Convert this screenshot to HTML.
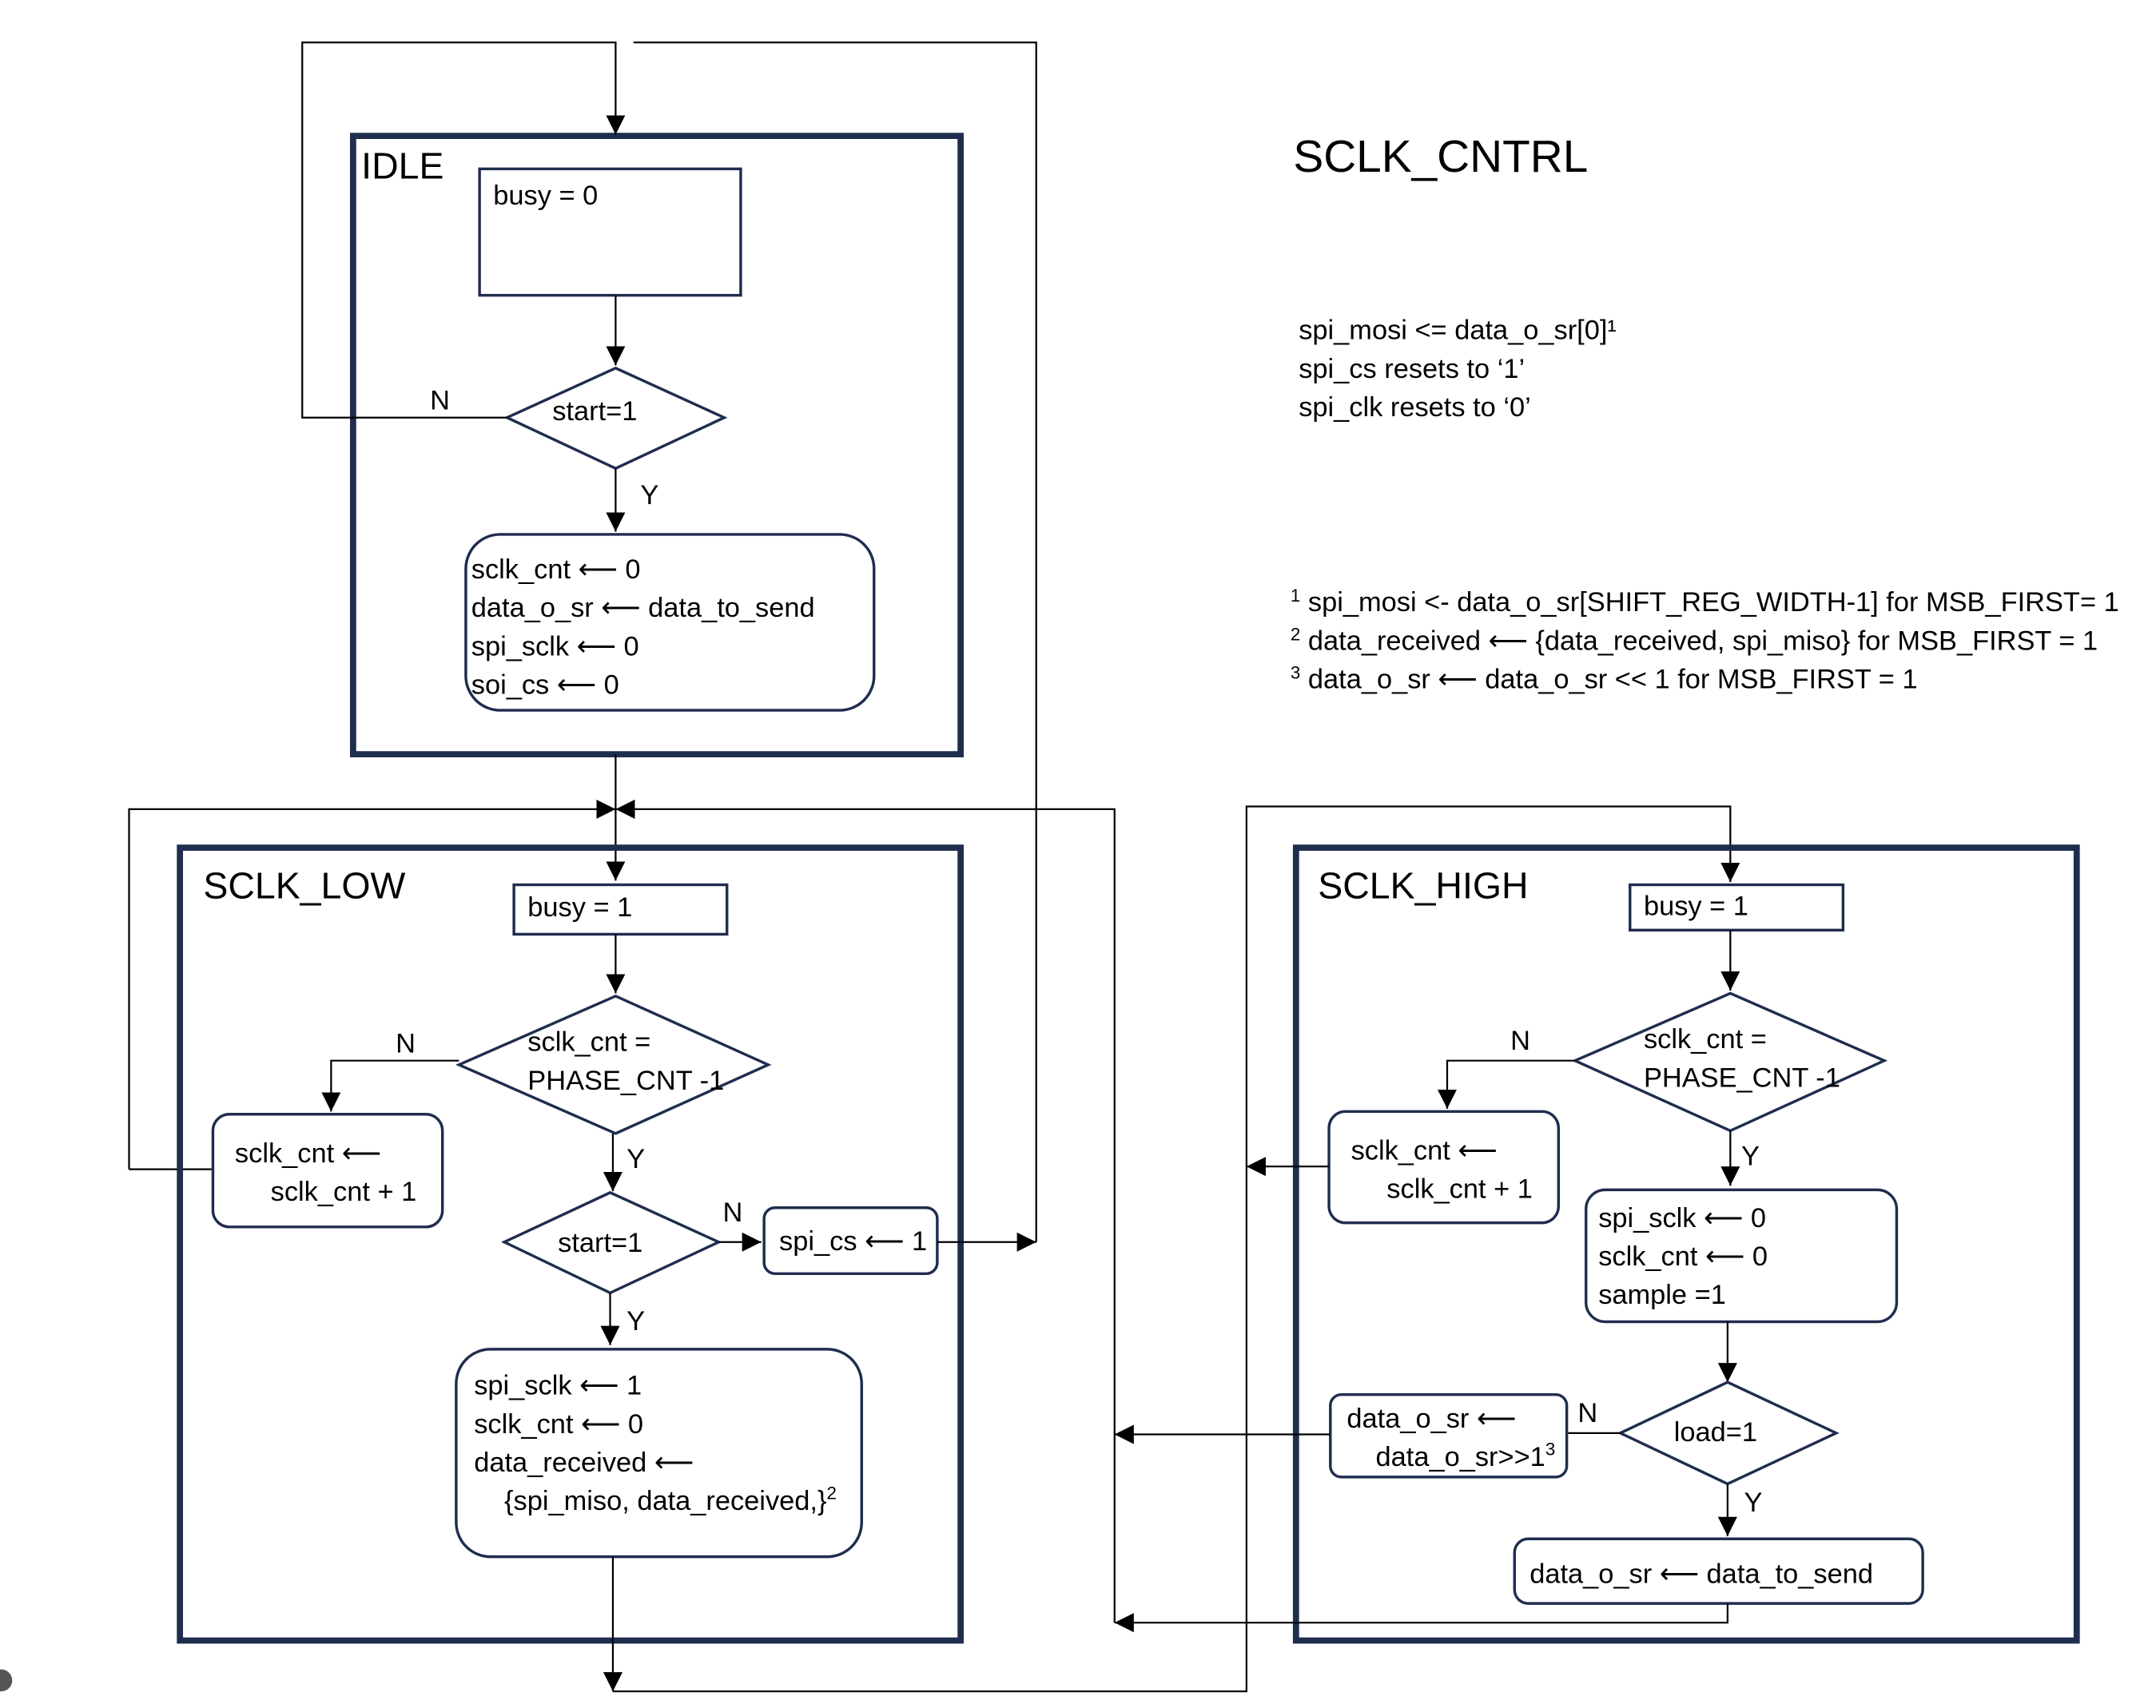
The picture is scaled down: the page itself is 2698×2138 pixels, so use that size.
<!DOCTYPE html>
<html><head><meta charset="utf-8"><style>
html,body{margin:0;padding:0;background:#fff;}
svg{display:block;}
text{font-family:"Liberation Sans",sans-serif;font-size:20px;fill:#000;}
.b{fill:none;stroke:#1f2d4e;stroke-width:4.5;}
.n{fill:#fff;stroke:#1f2d4e;stroke-width:2;}
.l{fill:none;stroke:#000;stroke-width:1.3;}
</style></head><body>
<svg width="2698" height="2138" viewBox="-0.9 -0.9 1568.6 1243" preserveAspectRatio="none" xmlns="http://www.w3.org/2000/svg">
<defs>
<marker id="a2" viewBox="0 0 10 10" refX="10" refY="5" markerWidth="14" markerHeight="14" markerUnits="userSpaceOnUse" orient="auto"><path d="M0,0L10,5L0,10z" fill="#000"/></marker></defs>

<circle cx="0" cy="1222" r="8" fill="#555"/>

<!-- IDLE -->
<rect class="b" x="256" y="98" width="442" height="450"/>
<text x="262" y="129" style="font-size:27px">IDLE</text>
<rect class="n" x="348" y="122" width="190" height="92"/>
<text x="358" y="148">busy = 0</text>
<path class="l" d="M447,214V265" marker-end="url(#a2)"/>
<polygon class="n" points="368,303 447,267 526,303 447,340"/>
<text x="401" y="305">start=1</text>
<text x="312" y="297">N</text>
<path class="l" d="M368,303H219V30H447V97" marker-end="url(#a2)"/>
<path class="l" d="M460,30H753V903"/>
<text x="465" y="366">Y</text>
<path class="l" d="M447,340V386" marker-end="url(#a2)"/>
<rect class="n" x="338" y="388" width="297" height="128" rx="25"/>
<text x="342" y="420">sclk_cnt ⟵ 0</text>
<text x="342" y="448">data_o_sr  ⟵ data_to_send</text>
<text x="342" y="476">spi_sclk ⟵ 0</text>
<text x="342" y="504">soi_cs ⟵ 0</text>

<!-- junction -->
<path class="l" d="M447,548V588"/>
<path class="l" d="M93,850V588H447" marker-end="url(#a2)"/>
<path class="l" d="M154,850H93"/>
<path class="l" d="M810,1180V588H447" marker-end="url(#a2)"/>
<path class="l" d="M447,588V640" marker-end="url(#a2)"/>

<!-- SCLK_CNTRL notes -->
<text x="940" y="124" style="font-size:33px">SCLK_CNTRL</text>
<text x="944" y="246">spi_mosi &lt;= data_o_sr[0]¹</text>
<text x="944" y="274">spi_cs resets to ‘1’</text>
<text x="944" y="302">spi_clk resets to ‘0’</text>
<text x="938" y="444"><tspan style="font-size:13px" dy="-7">1</tspan><tspan dy="7"> spi_mosi &lt;- data_o_sr[SHIFT_REG_WIDTH-1] for MSB_FIRST= 1</tspan></text>
<text x="938" y="472"><tspan style="font-size:13px" dy="-7">2</tspan><tspan dy="7">  data_received ⟵  {data_received, spi_miso} for MSB_FIRST = 1</tspan></text>
<text x="938" y="500"><tspan style="font-size:13px" dy="-7">3</tspan><tspan dy="7"> data_o_sr  ⟵  data_o_sr &lt;&lt; 1 for MSB_FIRST = 1</tspan></text>

<!-- SCLK_LOW -->
<rect class="b" x="130" y="616" width="568" height="577"/>
<text x="147" y="653" style="font-size:27px">SCLK_LOW</text>
<rect class="n" x="373" y="643" width="155" height="36"/>
<text x="383" y="666">busy = 1</text>
<path class="l" d="M447,679V722" marker-end="url(#a2)"/>
<polygon class="n" points="333,774 447,724 558,774 447,824"/>
<text x="383" y="764">sclk_cnt =</text>
<text x="383" y="792">PHASE_CNT -1</text>
<text x="287" y="765">N</text>
<path class="l" d="M333,771H240V808" marker-end="url(#a2)"/>
<rect class="n" x="154" y="810" width="167" height="82" rx="12"/>
<text x="170" y="845">sclk_cnt ⟵</text>
<text x="196" y="873">sclk_cnt + 1</text>
<text x="455" y="849">Y</text>
<path class="l" d="M445,824V866" marker-end="url(#a2)"/>
<polygon class="n" points="366,903 443,867 522,903 443,940"/>
<text x="405" y="910">start=1</text>
<text x="525" y="888">N</text>
<path class="l" d="M522,903H553" marker-end="url(#a2)"/>
<rect class="n" x="555" y="878" width="126" height="48" rx="8"/>
<text x="566" y="909">spi_cs ⟵ 1</text>
<path class="l" d="M681,903H753" marker-end="url(#a2)"/>
<text x="455" y="967">Y</text>
<path class="l" d="M443,940V978" marker-end="url(#a2)"/>
<rect class="n" x="331" y="981" width="295" height="151" rx="25"/>
<text x="344" y="1014">spi_sclk ⟵ 1</text>
<text x="344" y="1042">sclk_cnt ⟵ 0</text>
<text x="344" y="1070">data_received ⟵</text>
<text x="366" y="1098">{spi_miso, data_received,}<tspan style="font-size:13px" dy="-8">2</tspan></text>
<path class="l" d="M445,1132V1230" marker-end="url(#a2)"/>
<path class="l" d="M445,1230H906V586H1258V641" marker-end="url(#a2)"/>

<!-- SCLK_HIGH -->
<rect class="b" x="942" y="616" width="568" height="577"/>
<text x="958" y="653" style="font-size:27px">SCLK_HIGH</text>
<rect class="n" x="1185" y="643" width="155" height="33"/>
<text x="1195" y="665">busy = 1</text>
<path class="l" d="M1258,676V720" marker-end="url(#a2)"/>
<polygon class="n" points="1145,771 1258,722 1370,771 1258,822"/>
<text x="1195" y="762">sclk_cnt =</text>
<text x="1195" y="790">PHASE_CNT -1</text>
<text x="1098" y="763">N</text>
<path class="l" d="M1145,771H1052V806" marker-end="url(#a2)"/>
<rect class="n" x="966" y="808" width="167" height="81" rx="12"/>
<text x="982" y="843">sclk_cnt ⟵</text>
<text x="1008" y="871">sclk_cnt + 1</text>
<path class="l" d="M966,848H906" marker-end="url(#a2)"/>
<text x="1266" y="847">Y</text>
<path class="l" d="M1258,822V862" marker-end="url(#a2)"/>
<rect class="n" x="1153" y="865" width="226" height="96" rx="14"/>
<text x="1162" y="892">spi_sclk ⟵ 0</text>
<text x="1162" y="920">sclk_cnt ⟵ 0</text>
<text x="1162" y="948">sample =1</text>
<path class="l" d="M1256,961V1005" marker-end="url(#a2)"/>
<polygon class="n" points="1178,1042 1256,1005 1335,1042 1256,1079"/>
<text x="1217" y="1048">load=1</text>
<text x="1147" y="1034">N</text>
<path class="l" d="M1178,1042H1140"/>
<rect class="n" x="967" y="1014" width="172" height="60" rx="8"/>
<text x="979" y="1038">data_o_sr  ⟵</text>
<text x="1000" y="1066">data_o_sr&gt;&gt;1<tspan style="font-size:13px" dy="-8">3</tspan></text>
<path class="l" d="M967,1043H810" marker-end="url(#a2)"/>
<text x="1268" y="1099">Y</text>
<path class="l" d="M1256,1079V1117" marker-end="url(#a2)"/>
<rect class="n" x="1101" y="1119" width="297" height="47" rx="10"/>
<text x="1112" y="1151">data_o_sr  ⟵ data_to_send</text>
<path class="l" d="M1256,1166V1180H810" marker-end="url(#a2)"/>
</svg>
</body></html>
